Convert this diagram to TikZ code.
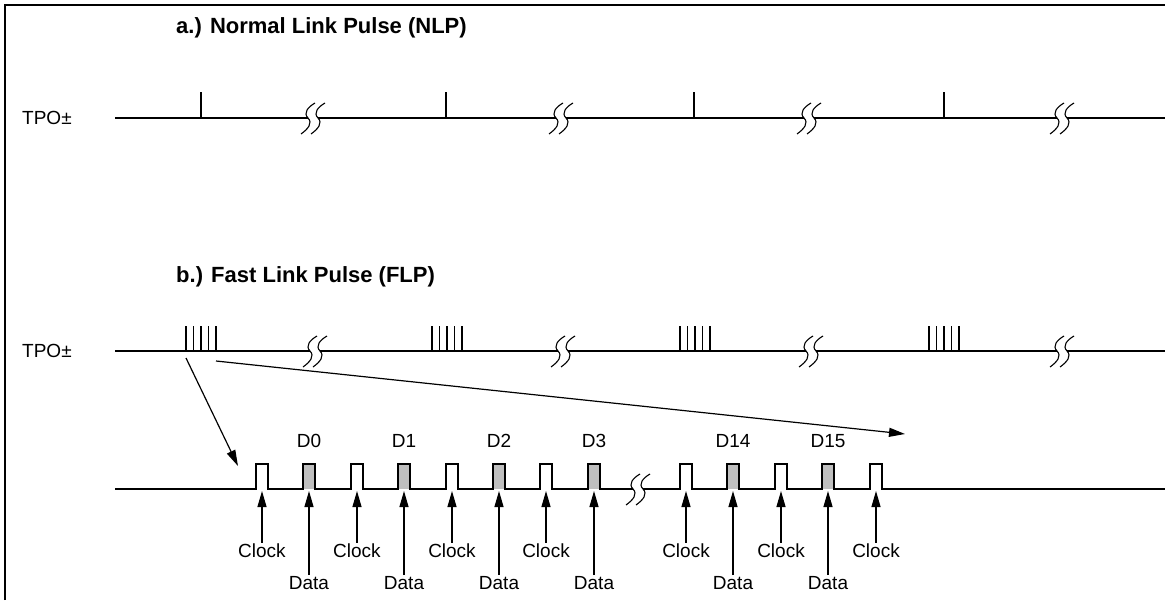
\documentclass[tikz,border=0pt]{standalone}
\usepackage{fontspec}
\setmainfont{Liberation Sans}
\usetikzlibrary{arrows.meta}
\begin{document}
\begin{tikzpicture}[x=1pt,y=-1pt,
  sig/.style={line width=1.3pt},
  lbl/.style={font=\fontsize{19}{22}\selectfont, inner sep=1pt},
  tpo/.style={font=\fontsize{19}{22}\selectfont, inner sep=0pt, anchor=west},
  ttl/.style={font=\fontsize{22}{26}\selectfont\bfseries, inner sep=0pt, anchor=west},
  arr/.style={line width=1.2pt, -{Triangle[length=16pt,width=9pt]}},
  brk/.pic={
    \fill[white] (-5,-1.7) rectangle (5,1.7);
    \foreach \s in {-5,5}{
      \begin{scope}[xshift=\s pt]
        \draw[line width=1.1pt] (7,-15) .. controls (0,-11) and (-5,-5) .. (0,0)
              .. controls (5,5) and (0,11) .. (-7,16);
      \end{scope}
    }
  }
]
\useasboundingbox (0,0) rectangle (1165,600);
% frame
\draw[line width=2.2pt] (5,600) -- (5,5) -- (1165,5);

% ---- a) NLP
\node[ttl] (ta) at (176,28) {a.) Normal Link Pulse (NLP)};
\node[tpo] (tpoa) at (22,118) {TPO±};
\draw[sig] (115,118) -- (1165,118);
\foreach \x in {201,446,694,944}{
  \draw[sig] (\x,118) -- (\x,92);
}
\foreach \x in {313,561,809,1062}{
  \pic at (\x,118) {brk};
}

% ---- b) FLP
\node[ttl] (tb) at (176,277) {b.) Fast Link Pulse (FLP)};
\node[tpo] (tpob) at (22,351) {TPO±};
\draw[sig] (115,351) -- (1165,351);
\foreach \c in {201,447,695,944}{
  \foreach \d in {-15,-7.5,0,7.5,15}{
    \draw[sig] (\c+\d,351) -- (\c+\d,326);
  }
}
\foreach \x in {315,563,811,1062}{
  \pic at (\x,351) {brk};
}
\coordinate (g1l) at (186,358);
\coordinate (g1r) at (216,361);
\coordinate (e1) at (238,466);
\coordinate (e2) at (905,434);
\draw[arr] (g1l) -- (e1);
\draw[arr] (g1r) -- (e2);

% ---- expanded pulse train
\foreach \x in {303,398,493,588,727,822}{
  \fill[gray!50] (\x,464) rectangle (\x+12,489);
}
\draw[sig] (115,489)
  \foreach \x in {256,303,351,398,446,493,540,588,680,727,775,822,870}{
    -- (\x,489) -- (\x,464) -- (\x+12,464) -- (\x+12,489)
  } -- (1165,489);
\pic at (638,489) {brk};

\foreach \x/\n in {256/1,351/3,446/5,540/7,680/9,775/11,870/13}{
  \coordinate (p\n) at (\x+6,491);
  \node[lbl] (cl\n) at (\x+6,551) {Clock};
  \draw[arr] (cl\n.north) -- (p\n);
}
\foreach \x/\n in {303/2,398/4,493/6,588/8,727/10,822/12}{
  \coordinate (p\n) at (\x+6,491);
  \node[lbl] (da\n) at (\x+6,583) {Data};
  \draw[arr] (da\n.north) -- (p\n);
}
\foreach \x/\t in {303/D0,398/D1,493/D2,588/D3,727/D14,822/D15}{
  \node[lbl] (lab\t) at (\x+6,441) {\t};
}
\end{tikzpicture}
\end{document}
